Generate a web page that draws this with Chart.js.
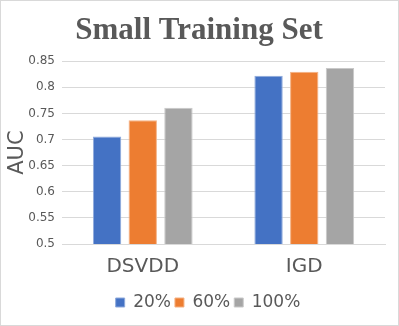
<!DOCTYPE html>
<html><head><meta charset="utf-8">
<script src="https://cdn.jsdelivr.net/npm/chart.js@4/dist/chart.umd.min.js"></script>
<style>
html,body{margin:0;padding:0;background:#fff;}
#wrap{width:399px;height:326px;box-sizing:border-box;border:1px solid #d9d9d9;position:relative;}
canvas{display:block;}
</style></head>
<body><div id="wrap"><canvas id="c" width="397" height="324"></canvas></div>
<script>
const categories = ["DSVDD", "IGD"];
const seriesNames = ["20%", "60%", "100%"];
const values20 = [0.706, 0.822];
const values60 = [0.737, 0.830];
const values100 = [0.761, 0.837];
const colors = ["#4472C4", "#ED7D31", "#A5A5A5"];
const borders = ["#8FAADC", "#F4B183", "#C9C9C9"];

const ds = [values20, values60, values100].map((v, i) => ({
  label: seriesNames[i], data: v, backgroundColor: colors[i],
  borderColor: borders[i], borderWidth: 1,
  categoryPercentage: 0.663, barPercentage: 0.795
}));

const shiftBlocks = {
  id: 'shiftBlocks',
  afterLayout(chart) {
    if (chart.legend) { chart.legend.left += 13; chart.legend.right += 13; }
    if (chart.titleBlock) { chart.titleBlock.left += 4; chart.titleBlock.right += 4; }
  }
};

new Chart(document.getElementById('c'), {
  type: 'bar',
  data: { labels: categories, datasets: ds },
  plugins: [shiftBlocks],
  options: {
    responsive: false, animation: false,
    layout: { padding: { left: 4, right: 13, top: 0, bottom: 4 } },
    plugins: {
      title: { display: true, text: 'Small Training Set', color: '#595959',
        font: { family: 'Liberation Serif', size: 31, weight: 'bold' }, padding: { top: 11, bottom: 12 } },
      legend: { position: 'bottom', labels: { color: '#595959', boxWidth: 9, boxHeight: 9, padding: 4,
        font: { family: 'DejaVu Sans', size: 17 } } },
      tooltip: { enabled: false }
    },
    scales: {
      x: {
        grid: { display: false, drawTicks: false },
        border: { color: '#d9d9d9' },
        ticks: { color: '#595959', font: { family: 'DejaVu Sans', size: 20 }, padding: 11 }
      },
      y: {
        min: 0.5, max: 0.85,
        afterFit: axis => { axis.width = 57; },
        grid: { color: '#d9d9d9', drawTicks: true, tickLength: 5, tickColor: '#fff' },
        border: { display: false },
        title: { display: true, text: 'AUC', color: '#595959', font: { family: 'DejaVu Sans', size: 21 }, padding: 0 },
        ticks: { stepSize: 0.05, color: '#595959', font: { family: 'DejaVu Sans', size: 12 }, padding: 2,
          callback: v => String(Number(v.toFixed(2))) }
      }
    }
  }
});
</script></body></html>
